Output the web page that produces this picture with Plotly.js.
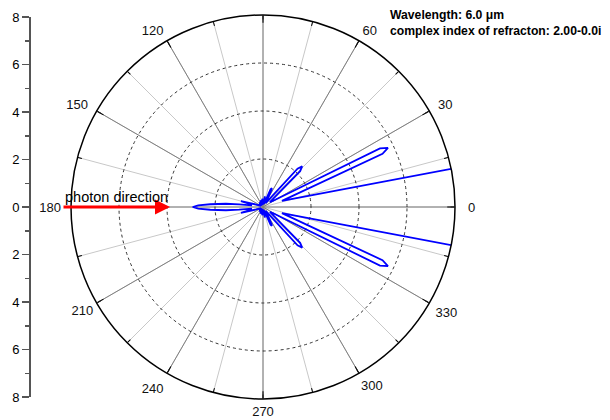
<!DOCTYPE html>
<html>
<head>
<meta charset="utf-8">
<script src="https://cdn.plot.ly/plotly-3.0.1.min.js"></script>
<style>html,body{margin:0;padding:0;background:#fff;}#chart{width:610px;height:420px;}</style>
</head>
<body>
<div id="chart"></div>
<script>
// Scattering angle (degrees, upper half 0..180) and intensity
const scatterAngle = [0, 5, 10.9, 18, 24, 25.3, 26.6, 31.5, 35, 44, 46, 48, 56, 63.3, 65, 66.7, 72,
  80, 87, 95, 102, 110, 118, 126, 134, 142, 150, 160, 165, 168, 172, 173.5, 175, 177, 178.6, 180];
const intensity = [60, 50, 30.5, 0.83, 5.45, 5.76, 5.45, 0.5, 0.35, 2.15, 2.35, 2.15, 0.2, 0.8, 0.87, 0.8, 0.15,
  0.45, 0.1, 0.35, 0.1, 0.3, 0.08, 0.25, 0.08, 0.22, 0.1, 0.3, 0.95, 0.5, 0.5, 1.0, 1.55, 2.2, 2.7, 2.93];
const radialTicks = [2, 4, 6];
const angleTickVals = [0, 30, 60, 90, 120, 150, 180, 210, 240, 270, 300, 330];
// angle labels split in groups so each sits at the reference's distance from the rim
const labelGroupA = [0];
const labelGroupB = [30, 150, 180];
const labelGroupC = [60, 120, 240, 330];
const labelGroupD = [210, 270, 300];
const sideTickVals = [-8, -6, -4, -2, 0, 2, 4, 6, 8];
const sideTickText = ['8', '6', '4', '2', '0', '2', '4', '6', '8'];

// symmetric pattern: lower half mirrors the upper half
const thetaFull = scatterAngle.concat(scatterAngle.slice(0, -1).reverse().map(t => 360 - t));
const rFull = intensity.concat(intensity.slice(0, -1).reverse());

const FONT = 'Liberation Sans, Arial, sans-serif';

const emptyPolar = id => ({type: 'scatterpolar', subplot: id, r: [], theta: [], mode: 'lines',
  showlegend: false, hoverinfo: 'skip'});

const traces = [
  emptyPolar('polar'),
  {type: 'scatterpolar', subplot: 'polar2', r: rFull, theta: thetaFull, mode: 'lines',
   line: {color: '#0000ff', width: 1.8}, showlegend: false},
  emptyPolar('polar3'), emptyPolar('polar4'), emptyPolar('polar5'), emptyPolar('polar6'),
  {type: 'scatter', x: [], y: [], xaxis: 'x', yaxis: 'y', showlegend: false, hoverinfo: 'skip'}
];

const dom = {x: [71/610, 455/610], y: [21/420, 405/420]};
const hiddenRadial = {range: [0, 8], showgrid: false, showline: false, showticklabels: false, ticks: ''};
const labelPolar = (vals, len) => ({
  domain: dom,
  bgcolor: 'rgba(0,0,0,0)',
  angularaxis: {tickmode: 'array', tickvals: vals, ticktext: vals.map(String), showgrid: false,
    showline: false, ticks: 'outside', ticklen: len, tickcolor: 'rgba(0,0,0,0)',
    tickfont: {family: FONT, size: 13, color: '#111'}},
  radialaxis: hiddenRadial
});

const layout = {
  width: 610, height: 420,
  margin: {l: 0, r: 0, t: 0, b: 0},
  paper_bgcolor: '#ffffff',
  font: {family: FONT, size: 13, color: '#000'},
  showlegend: false,
  polar: {
    domain: dom,
    bgcolor: '#ffffff',
    angularaxis: {dtick: 15, tick0: 0, gridcolor: '#c8c8c8', gridwidth: 1, showticklabels: false,
      ticks: 'inside', ticklen: 4, tickcolor: '#000', showline: false},
    radialaxis: hiddenRadial
  },
  polar2: {
    domain: dom,
    bgcolor: 'rgba(0,0,0,0)',
    angularaxis: {tickmode: 'array', tickvals: angleTickVals, showticklabels: false,
      gridcolor: '#808080', gridwidth: 1, ticks: 'inside', ticklen: 7,
      tickcolor: '#000', showline: true, linecolor: '#000', linewidth: 1.5},
    radialaxis: {range: [0, 8], tickvals: radialTicks, showgrid: true, gridcolor: '#333', griddash: 'dot',
      gridwidth: 1, showline: false, showticklabels: false, ticks: ''}
  },
  polar3: labelPolar(labelGroupA, 10),
  polar4: labelPolar(labelGroupB, 7),
  polar5: labelPolar(labelGroupC, 4),
  polar6: labelPolar(labelGroupD, 1),
  xaxis: {domain: [29/610, 30/610], visible: false, range: [0, 1]},
  yaxis: {domain: [23/420, 403/420], anchor: 'free', position: 29/610, range: [-8, 8],
    tickvals: sideTickVals, ticktext: sideTickText, ticks: 'outside', ticklen: 7, tickwidth: 1.5,
    tickcolor: '#555', showline: true, linecolor: '#555', linewidth: 1.5, showgrid: false, zeroline: false,
    tickfont: {family: FONT, size: 13, color: '#000'},
    minor: {dtick: 2, tick0: -7, ticks: 'outside', ticklen: 4, tickcolor: '#555', tickwidth: 1.5, showgrid: false}},
  annotations: [
    {xref: 'paper', yref: 'paper', x: 170/610, y: 213/420, ax: -108, ay: 0, text: '', showarrow: true,
     arrowcolor: '#ff0000', arrowwidth: 3, arrowhead: 2, arrowsize: 1},
    {xref: 'paper', yref: 'paper', x: 116/610, y: 223/420, xanchor: 'center', yanchor: 'middle',
     text: 'photon direction', showarrow: false, font: {family: FONT, size: 14.5, color: '#000'}},
    {xref: 'paper', yref: 'paper', x: 388/610, y: 414/420, xanchor: 'left', yanchor: 'top', align: 'left',
     text: '<b>Wavelength: 6.0 μm<br>complex index of refracton: 2.00-0.0i</b>', showarrow: false,
     font: {family: FONT, size: 12.2, color: '#000'}}
  ]
};

Plotly.newPlot('chart', traces, layout, {displayModeBar: false, staticPlot: true});
</script>
</body>
</html>
